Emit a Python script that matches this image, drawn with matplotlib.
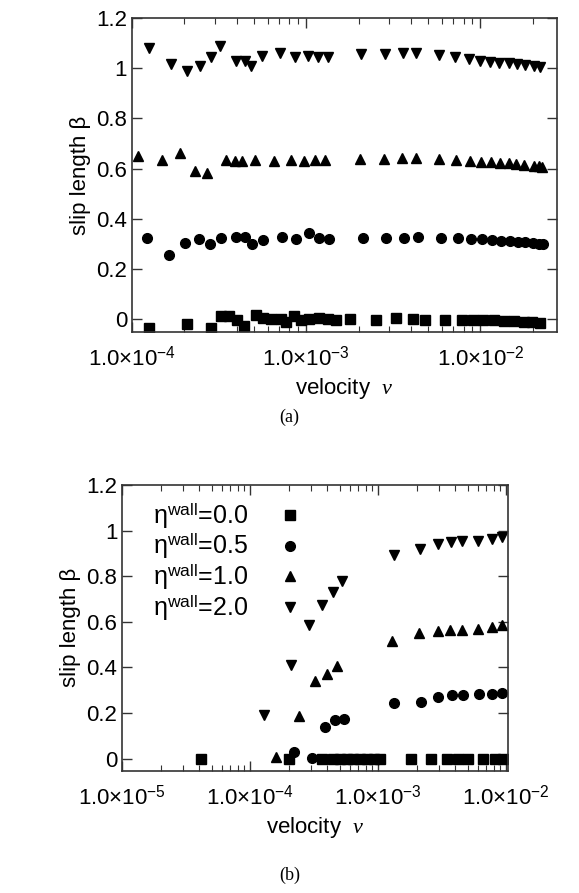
import numpy as np
import matplotlib
matplotlib.use("Agg")
import matplotlib.pyplot as plt
from matplotlib.ticker import FixedLocator, FuncFormatter, LogLocator, NullFormatter

plt.rcParams["font.family"] = ["Liberation Sans", "DejaVu Sans"]
plt.rcParams["mathtext.fontset"] = "custom"
plt.rcParams["mathtext.rm"] = "Liberation Sans"
plt.rcParams["mathtext.it"] = "Liberation Serif:italic"

# ---- panel (a): log10(velocity) and slip length ----
a_tri_down_logv = [-3.900, -3.777, -3.687, -3.612, -3.549, -3.493, -3.401, -3.351, -3.318, -3.255,
                   -3.149, -3.064, -2.991, -2.930, -2.876, -2.684, -2.548, -2.444, -2.371, -2.238,
                   -2.146, -2.063, -2.002, -1.944, -1.891, -1.839, -1.791, -1.743, -1.695, -1.656]
a_tri_down_beta = [1.080, 1.016, 0.987, 1.007, 1.046, 1.086, 1.027, 1.027, 1.007, 1.049,
                   1.060, 1.046, 1.049, 1.046, 1.046, 1.056, 1.056, 1.060, 1.060, 1.053,
                   1.046, 1.036, 1.029, 1.025, 1.021, 1.019, 1.016, 1.013, 1.009, 1.004]
a_tri_up_logv = [-3.965, -3.827, -3.725, -3.641, -3.572, -3.462, -3.408, -3.370, -3.295, -3.183,
                 -3.087, -3.014, -2.947, -2.890, -2.694, -2.553, -2.448, -2.371, -2.236, -2.140,
                 -2.060, -1.996, -1.939, -1.887, -1.839, -1.794, -1.752, -1.695, -1.666, -1.647]
a_tri_up_beta = [0.648, 0.635, 0.661, 0.592, 0.582, 0.635, 0.628, 0.628, 0.632, 0.628,
                 0.635, 0.628, 0.632, 0.632, 0.637, 0.637, 0.641, 0.641, 0.637, 0.635,
                 0.628, 0.624, 0.624, 0.622, 0.622, 0.619, 0.615, 0.611, 0.608, 0.606]
a_circ_logv = [-3.914, -3.789, -3.693, -3.616, -3.552, -3.491, -3.404, -3.351, -3.312, -3.251,
               -3.141, -3.059, -2.986, -2.924, -2.867, -2.674, -2.540, -2.438, -2.357, -2.227,
               -2.131, -2.054, -1.992, -1.935, -1.883, -1.833, -1.787, -1.743, -1.698, -1.666, -1.641]
a_circ_beta = [0.325, 0.256, 0.305, 0.319, 0.299, 0.323, 0.329, 0.327, 0.299, 0.316,
               0.329, 0.319, 0.343, 0.323, 0.319, 0.325, 0.325, 0.325, 0.327, 0.325,
               0.325, 0.321, 0.319, 0.316, 0.313, 0.312, 0.309, 0.307, 0.304, 0.301, 0.299]
a_sq_logv = [-3.904, -3.687, -3.549, -3.491, -3.443, -3.395, -3.356, -3.289, -3.251, -3.203,
             -3.145, -3.116, -3.068, -3.030, -2.982, -2.924, -2.876, -2.828, -2.751, -2.597,
             -2.482, -2.390, -2.319, -2.204, -2.108, -2.040, -1.983, -1.925, -1.867, -1.810,
             -1.752, -1.704, -1.656]
a_sq_beta = [-0.036, -0.019, -0.036, 0.013, 0.011, -0.003, -0.029, 0.017, 0.004, 0.000,
             0.000, -0.013, 0.011, -0.003, 0.000, 0.004, 0.000, -0.003, 0.000, -0.005,
             0.004, 0.000, -0.003, -0.003, -0.003, -0.003, -0.003, -0.005, -0.007, -0.009,
             -0.012, -0.013, -0.016]

# ---- panel (b) ----
b_tri_down_logv = [-3.891, -3.682, -3.542, -3.435, -3.349, -3.279, -2.880, -2.672, -2.534, -2.432,
                   -2.346, -2.216, -2.112, -2.029]
b_tri_down_beta = [0.190, 0.409, 0.585, 0.675, 0.730, 0.778, 0.892, 0.921, 0.939, 0.949,
                   0.953, 0.956, 0.963, 0.971]
b_tri_up_logv = [-3.799, -3.622, -3.497, -3.401, -3.323, -2.893, -2.680, -2.536, -2.438, -2.341,
                 -2.216, -2.112, -2.029]
b_tri_up_beta = [0.006, 0.189, 0.339, 0.371, 0.405, 0.518, 0.551, 0.558, 0.563, 0.566,
                 0.570, 0.576, 0.585]
b_circ_logv = [-3.654, -3.518, -3.414, -3.336, -3.263, -2.875, -2.667, -2.529, -2.424, -2.339,
               -2.211, -2.107, -2.029]
b_circ_beta = [0.028, 0.003, 0.139, 0.171, 0.174, 0.244, 0.251, 0.270, 0.278, 0.278,
               0.284, 0.285, 0.288]
b_sq_logv = [-4.385, -3.695, -3.435, -3.349, -3.297, -3.245, -3.193, -3.141, -3.089, -3.036,
             -2.984, -2.742, -2.586, -2.464, -2.378, -2.299, -2.177, -2.086, -2.021]
b_sq_beta = [0.0] * len(b_sq_logv)

legend_labels = [r"η$^{\rm wall}$=0.0", r"η$^{\rm wall}$=0.5",
                 r"η$^{\rm wall}$=1.0", r"η$^{\rm wall}$=2.0"]
y_ticks = [0, 0.2, 0.4, 0.6, 0.8, 1.0, 1.2]


def sci_fmt(v, pos):
    e = int(round(np.log10(v)))
    return r"1.0×10$^{%d}$" % e


def style_axes(ax, xlim, xticks):
    ax.set_xscale("log")
    ax.set_xlim(*xlim)
    ax.set_ylim(-0.052, 1.2)
    ax.xaxis.set_major_locator(FixedLocator(xticks))
    ax.xaxis.set_minor_locator(LogLocator(base=10, subs=np.arange(2, 10)))
    ax.xaxis.set_major_formatter(FuncFormatter(sci_fmt))
    ax.xaxis.set_minor_formatter(NullFormatter())
    ax.yaxis.set_major_locator(FixedLocator(y_ticks))
    ax.yaxis.set_major_formatter(FuncFormatter(lambda v, p: "0" if v == 0 else ("1" if v == 1 else f"{v:g}")))
    ax.tick_params(which="both", direction="in", top=True, right=True, labelsize=16, color="#333333")
    ax.tick_params(which="major", length=7, width=1)
    ax.tick_params(which="minor", length=4, width=0.8)
    ax.tick_params(axis="x", pad=10)
    for s in ax.spines.values():
        s.set_linewidth(1.2)
        s.set_color("#333333")
    ax.set_ylabel("slip length β", fontsize=16)
    ax.set_xlabel("velocity  $\\it{v}$", fontsize=16)


fig = plt.figure(figsize=(5.79, 8.93), dpi=100)
ax1 = fig.add_axes([0.228, 0.628, 0.734, 0.352])
ax2 = fig.add_axes([0.211, 0.137, 0.666, 0.320])

ms = 7
for ax, sets in [
    (ax1, [(a_sq_logv, a_sq_beta, "s"), (a_circ_logv, a_circ_beta, "o"),
           (a_tri_up_logv, a_tri_up_beta, "^"), (a_tri_down_logv, a_tri_down_beta, "v")]),
    (ax2, [(b_sq_logv, b_sq_beta, "s"), (b_circ_logv, b_circ_beta, "o"),
           (b_tri_up_logv, b_tri_up_beta, "^"), (b_tri_down_logv, b_tri_down_beta, "v")]),
]:
    for (lv, b, m), lab in zip(sets, legend_labels):
        ax.plot(10 ** np.array(lv), b, linestyle="none", marker=m, color="black",
                markersize=ms if m != "s" else 6.5, label=lab)

style_axes(ax1, (1.0e-4, 2.75e-2), [1e-4, 1e-3, 1e-2])
style_axes(ax2, (1.0e-5, 1.03e-2), [1e-5, 1e-4, 1e-3, 1e-2])

ax2.legend(loc="upper left", markerfirst=False, frameon=False, fontsize=18,
           handlelength=1.0, handletextpad=1.2, labelspacing=0.0,
           borderaxespad=0.2, bbox_to_anchor=(0.04, 1.0))

fig.text(0.5, 0.527, "(a)", ha="center", fontsize=13, family="Liberation Serif")
fig.text(0.5, 0.015, "(b)", ha="center", fontsize=13, family="Liberation Serif")

fig.savefig("out.png", dpi=100)
